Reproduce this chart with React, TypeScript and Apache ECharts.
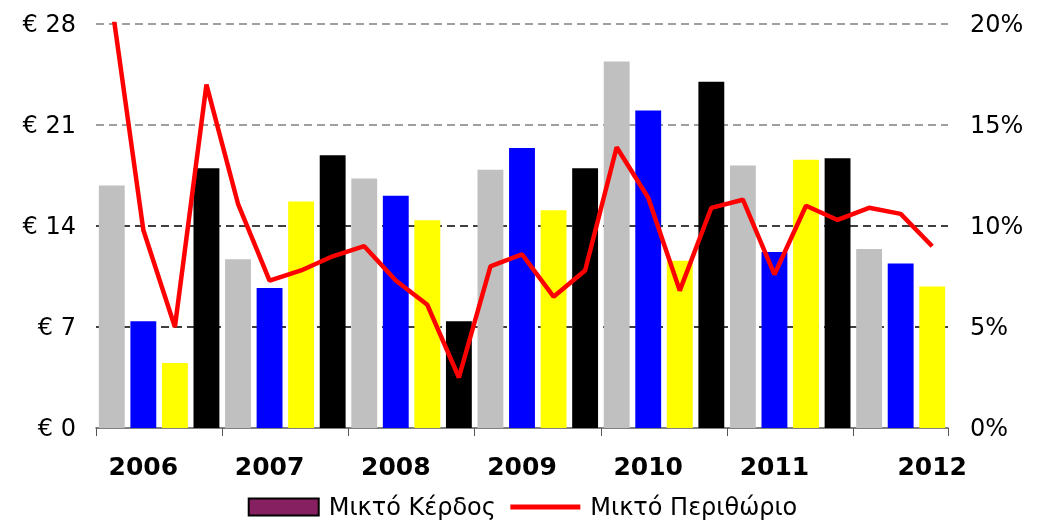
import React, { useEffect, useRef } from "react";
import * as echarts from "echarts";

const quarters = [
  "2006 Q1", "2006 Q2", "2006 Q3", "2006 Q4",
  "2007 Q1", "2007 Q2", "2007 Q3", "2007 Q4",
  "2008 Q1", "2008 Q2", "2008 Q3", "2008 Q4",
  "2009 Q1", "2009 Q2", "2009 Q3", "2009 Q4",
  "2010 Q1", "2010 Q2", "2010 Q3", "2010 Q4",
  "2011 Q1", "2011 Q2", "2011 Q3", "2011 Q4",
  "2012 Q1", "2012 Q2", "2012 Q3",
];

// Μικτό Κέρδος (€)
const grossProfit = [
  16.8, 7.4, 4.5, 18.0,
  11.7, 9.7, 15.7, 18.9,
  17.3, 16.1, 14.4, 7.4,
  17.9, 19.4, 15.1, 18.0,
  25.4, 22.0, 11.6, 24.0,
  18.2, 12.2, 18.6, 18.7,
  12.4, 11.4, 9.8,
];

// Μικτό Περιθώριο (%)
const grossMargin = [
  21.0, 9.8, 5.0, 17.0,
  11.1, 7.3, 7.8, 8.5,
  9.0, 7.3, 6.1, 2.5,
  8.0, 8.6, 6.5, 7.8,
  13.9, 11.4, 6.8, 10.9,
  11.3, 7.6, 11.0, 10.3,
  10.9, 10.6, 9.0,
];

const yearLabels = ["2006", "2007", "2008", "2009", "2010", "2011", "2012"];
const yearLabelIndex = [1, 5, 9, 13, 17, 21, 26];

const leftTicks = { min: 0, max: 28, interval: 7 };
const rightTicks = { min: 0, max: 20, interval: 5 };

const quarterColors = ["#C0C0C0", "#0000FF", "#FFFF00", "#000000"];

const FONT = "DejaVu Sans";

export default function App() {
  const ref = useRef<HTMLDivElement>(null);

  useEffect(() => {
    if (!ref.current) return;
    const chart = echarts.init(ref.current, null, { renderer: "svg" });
    const option = {
      animation: false,
      textStyle: { fontFamily: FONT },
      grid: { left: 96, right: 97, top: 24, bottom: 98 },
      legend: {
        bottom: 2,
        left: "center",
        itemWidth: 70,
        itemHeight: 17,
        itemGap: 12,
        textStyle: { fontFamily: FONT, fontSize: 24, color: "#000", padding: [0, 0, 0, 5] },
        data: [
          {
            name: "Μικτό Κέρδος",
            icon: "rect",
            itemStyle: { color: "#862060", borderColor: "#000", borderWidth: 2 },
          },
          {
            name: "Μικτό Περιθώριο",
            itemStyle: { color: "transparent", borderColor: "transparent", borderWidth: 0 },
            lineStyle: { color: "#FF0000", width: 5 },
          },
        ],
      },
      xAxis: {
        type: "category",
        data: quarters,
        axisLine: { lineStyle: { color: "#555", width: 1.5 } },
        axisTick: {
          show: true,
          interval: (i: number) => i % 4 === 0,
          length: 8,
          lineStyle: { color: "#555" },
        },
        axisLabel: {
          interval: 0,
          margin: 26,
          fontFamily: FONT,
          fontSize: 25,
          fontWeight: "bold",
          color: "#000",
          formatter: (_v: string, i: number) => {
            const k = yearLabelIndex.indexOf(i);
            return k >= 0 ? yearLabels[k] : "";
          },
        },
      },
      yAxis: [
        {
          type: "value",
          min: leftTicks.min,
          max: leftTicks.max,
          interval: leftTicks.interval,
          axisLine: { show: false },
          axisTick: { show: false },
          axisLabel: {
            margin: 20,
            fontFamily: FONT,
            fontSize: 24,
            color: "#000",
            formatter: (v: number) => "€ " + v,
          },
          splitLine: {
            show: true,
            showMinLine: false,
            lineStyle: {
              type: [8, 5],
              width: 1.5,
              color: ["#000000", "#000000", "#808080", "#808080"],
            },
          },
        },
        {
          type: "value",
          min: rightTicks.min,
          max: rightTicks.max,
          interval: rightTicks.interval,
          position: "right",
          axisLine: { show: false },
          axisTick: { show: false },
          splitLine: { show: false },
          axisLabel: {
            margin: 22,
            fontFamily: FONT,
            fontSize: 24,
            color: "#000",
            formatter: (v: number) => v + "%",
          },
        },
      ],
      series: [
        {
          name: "Μικτό Κέρδος",
          type: "bar",
          yAxisIndex: 0,
          data: grossProfit,
          barCategoryGap: "18%",
          itemStyle: {
            color: (p: any) => quarterColors[p.dataIndex % 4],
          },
        },
        {
          name: "Μικτό Περιθώριο",
          type: "line",
          yAxisIndex: 1,
          data: grossMargin,
          symbol: "none",
          clip: true,
          z: 5,
          lineStyle: { color: "#FF0000", width: 4.5 },
          itemStyle: { color: "#FF0000" },
        },
      ],
    };
    chart.setOption(option as any);
    return () => chart.dispose();
  }, []);

  return (
    <div
      ref={ref}
      style={{ position: "fixed", left: 0, top: 0, width: 1045, height: 526 }}
    />
  );
}
